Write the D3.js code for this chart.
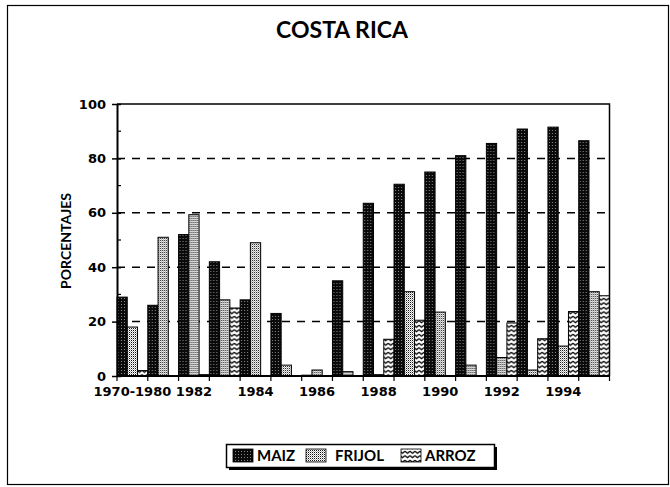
<!DOCTYPE html>
<html>
<head>
<meta charset="utf-8">
<script src="https://cdn.jsdelivr.net/npm/d3@7"></script>
<style>
  body { margin: 0; background: #fff; }
  svg { display: block; }
</style>
</head>
<body>
<svg id="chart" width="670" height="487"></svg>
<script>
(function() {

  // Data
  const categories = ["1970-1980", "1981", "1982", "1983", "1984", "1985", "1986", "1987",
                      "1988", "1989", "1990", "1991", "1992", "1993", "1994", "1995"];
  const seriesNames = ["MAIZ", "FRIJOL", "ARROZ"];
  const maiz   = [29, 26, 52, 42, 28, 23, 0.3, 35, 63.5, 70.5, 75, 81, 85.5, 90.8, 91.5, 86.5];
  const frijol = [18, 51, 59.3, 28, 49, 4, 2.2, 1.6, 0.5, 31, 23.5, 4, 6.8, 2.2, 11, 31];
  const arroz  = [2, 0, 0.5, 25, 0, 0, 0, 0, 13.5, 20.5, 0, 0, 19.5, 13.7, 23.7, 29.5];
  const yTicks = [0, 20, 40, 60, 80, 100];
  const yMinorTicks = [10, 30, 50, 70, 90];

  const seriesValues = [maiz, frijol, arroz];

  const svg = d3.select("#chart");
  const INK = "#000";

  // Patterns
  const defs = svg.append("defs");
  const pM = defs.append("pattern").attr("id", "pat-maiz")
    .attr("patternUnits", "userSpaceOnUse").attr("width", 3).attr("height", 3);
  pM.append("rect").attr("width", 3).attr("height", 3).attr("fill", "#0a0a0a");
  pM.append("rect").attr("x", 1).attr("y", 1).attr("width", 1).attr("height", 1).attr("fill", "#888");

  const pF = defs.append("pattern").attr("id", "pat-frijol")
    .attr("patternUnits", "userSpaceOnUse").attr("width", 2).attr("height", 2);
  pF.append("rect").attr("width", 2).attr("height", 2).attr("fill", "#fff");
  pF.append("rect").attr("width", 1).attr("height", 1).attr("fill", "#111");
  pF.append("rect").attr("x", 1).attr("y", 1).attr("width", 1).attr("height", 1).attr("fill", "#aaa");

  const pA = defs.append("pattern").attr("id", "pat-arroz")
    .attr("patternUnits", "userSpaceOnUse").attr("width", 5).attr("height", 4.5);
  pA.append("rect").attr("width", 5).attr("height", 4.5).attr("fill", "#fff");
  pA.append("path").attr("d", "M0,1.2 L2.5,3.2 L5,1.2")
    .attr("fill", "none").attr("stroke", "#000").attr("stroke-width", 1.3);

  const fills = ["url(#pat-maiz)", "url(#pat-frijol)", "url(#pat-arroz)"];

  // Outer frame
  svg.append("rect")
    .attr("x", 7.5).attr("y", 5.5).attr("width", 661).attr("height", 479)
    .attr("fill", "none").attr("stroke", INK).attr("stroke-width", 1.2);

  // Title
  svg.append("text")
    .attr("x", 342).attr("y", 38)
    .attr("text-anchor", "middle")
    .attr("font-family", "Lato, sans-serif")
    .attr("font-weight", 700)
    .attr("font-size", 23)
    .attr("fill", INK)
    .text("COSTA RICA");

  // Scales
  const left = 117, right = 609.5, top = 104, bottom = 376;
  const x = d3.scaleBand().domain(categories).range([left, right]).padding(0);
  const xs = d3.scaleBand().domain(seriesNames).range([0, x.bandwidth()]).padding(0);
  const y = d3.scaleLinear().domain([0, 100]).range([bottom, top]);

  // Dashed gridlines
  svg.append("g").selectAll("line")
    .data(yTicks.filter(t => t > 0 && t < 100))
    .join("line")
    .attr("x1", left).attr("x2", right)
    .attr("y1", d => y(d)).attr("y2", d => y(d))
    .attr("stroke", INK).attr("stroke-width", 1.5)
    .attr("stroke-dasharray", "8,7");

  // Bars
  const groups = svg.append("g").selectAll("g")
    .data(categories)
    .join("g")
    .attr("transform", d => `translate(${x(d)},0)`);

  groups.selectAll("rect")
    .data((d, i) => seriesNames.map((s, k) => ({ s, k, v: seriesValues[k][i] })).filter(e => e.v > 0))
    .join("rect")
    .attr("x", e => xs(e.s))
    .attr("y", e => y(e.v))
    .attr("width", xs.bandwidth())
    .attr("height", e => y(0) - y(e.v))
    .attr("fill", e => fills[e.k])
    .attr("stroke", INK)
    .attr("stroke-width", 1);

  // Plot frame (top and right)
  svg.append("path")
    .attr("d", `M${left},${top}H${right}V${bottom}`)
    .attr("fill", "none").attr("stroke", INK).attr("stroke-width", 1.5);

  // Y axis
  const yAxis = d3.axisLeft(y).tickValues(yTicks).tickSizeInner(5).tickSizeOuter(0).tickPadding(6);
  const gy = svg.append("g").attr("transform", `translate(${left},0)`).call(yAxis);
  gy.select(".domain").attr("stroke", INK).attr("stroke-width", 2);
  gy.selectAll(".tick line").attr("x2", -5).attr("x1", 4).attr("stroke-width", 1.5);
  gy.selectAll(".tick text")
    .attr("font-family", "DejaVu Sans, sans-serif")
    .attr("font-weight", 700)
    .attr("font-size", 13)
    .attr("fill", INK);
  gy.selectAll(".minor")
    .data(yMinorTicks)
    .join("line")
    .attr("class", "minor")
    .attr("x1", 0).attr("x2", 4)
    .attr("y1", d => y(d)).attr("y2", d => y(d))
    .attr("stroke", INK).attr("stroke-width", 1.2);

  // X axis: ticks at group boundaries, labels every other category
  const gx = svg.append("g").attr("transform", `translate(0,${bottom})`);
  gx.append("line").attr("x1", left).attr("x2", right)
    .attr("stroke", INK).attr("stroke-width", 2);
  gx.selectAll(".xt")
    .data(categories.concat(["end"]))
    .join("line")
    .attr("class", "xt")
    .attr("x1", (d, i) => i < categories.length ? x(d) : right)
    .attr("x2", (d, i) => i < categories.length ? x(d) : right)
    .attr("y1", 0).attr("y2", 5)
    .attr("stroke", INK).attr("stroke-width", 1.2);
  gx.selectAll(".xl")
    .data(categories.filter((d, i) => i % 2 === 0))
    .join("text")
    .attr("class", "xl")
    .attr("x", d => x(d) + x.bandwidth() / 2)
    .attr("y", 20)
    .attr("text-anchor", "middle")
    .attr("font-family", "DejaVu Sans, sans-serif")
    .attr("font-weight", 700)
    .attr("font-size", 13)
    .attr("fill", INK)
    .text(d => d);

  // Y axis title
  svg.append("text")
    .attr("transform", "translate(71,241) rotate(-90)")
    .attr("text-anchor", "middle")
    .attr("font-family", "Lato, sans-serif")
    .attr("font-weight", 700)
    .attr("font-size", 14)
    .attr("fill", INK)
    .text("PORCENTAJES");

  // Legend
  const lg = svg.append("g");
  lg.append("rect").attr("x", 229).attr("y", 447).attr("width", 268).attr("height", 23).attr("fill", INK);
  lg.append("rect").attr("x", 226.5).attr("y", 444.5).attr("width", 268).attr("height", 23)
    .attr("fill", "#fff").attr("stroke", INK).attr("stroke-width", 1.5);
  const legendX = [[233, 257], [306, 335], [401, 425]];
  seriesNames.forEach((s, k) => {
    lg.append("rect")
      .attr("x", legendX[k][0]).attr("y", 449).attr("width", 20).attr("height", 13)
      .attr("fill", fills[k]).attr("stroke", INK).attr("stroke-width", 0.8);
    lg.append("text")
      .attr("x", legendX[k][1]).attr("y", 461)
      .attr("font-family", "Lato, sans-serif")
      .attr("font-weight", 700)
      .attr("font-size", 15)
      .attr("fill", INK)
      .text(s);
  });
})();
</script>
</body>
</html>
